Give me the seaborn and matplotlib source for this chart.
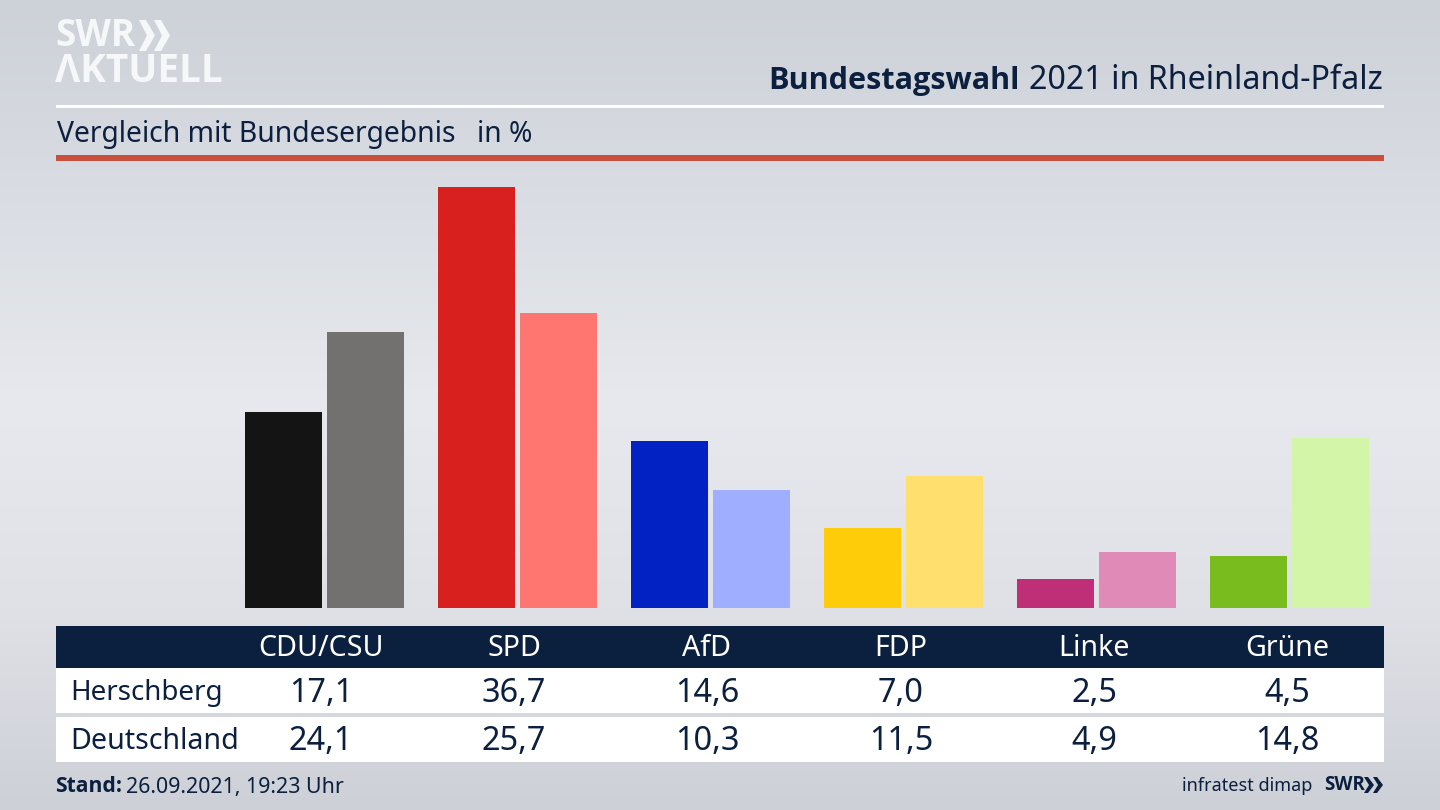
import numpy as np
import pandas as pd
import matplotlib
matplotlib.use("Agg")
import matplotlib.pyplot as plt
from matplotlib.patches import Rectangle, Polygon
from matplotlib.colors import LinearSegmentedColormap
import seaborn as sns

parties = ["CDU/CSU", "SPD", "AfD", "FDP", "Linke", "Grüne"]
herschberg = [17.1, 36.7, 14.6, 7.0, 2.5, 4.5]
deutschland = [24.1, 25.7, 10.3, 11.5, 4.9, 14.8]
row_names = ["Herschberg", "Deutschland"]
colors_herschberg = ["#141414", "#D8201E", "#0322C4", "#FFCC0A", "#BE2F78", "#78BC1E"]
colors_deutschland = ["#72716F", "#FF7570", "#A0AEFF", "#FFE06E", "#E08AB8", "#D2F5A8"]

NAVY = "#0B1F3F"
sns.set_theme(style="white")
plt.rcParams["font.family"] = ["Noto Sans", "DejaVu Sans"]

W, H = 1440, 810
fig = plt.figure(figsize=(14.4, 8.1), dpi=100)

# background gradient
bg = fig.add_axes([0, 0, 1, 1], zorder=0)
cmap = LinearSegmentedColormap.from_list(
    "bg", [(0, "#CDD1D8"), (0.25, "#DADDE3"), (0.5, "#E7E9EE"), (0.75, "#DFE1E7"), (1, "#CDD0D6")])
yy = np.linspace(0, 1, 256)[:, None]
bg.imshow(yy, cmap=cmap, aspect="auto", extent=(0, W, H, 0), vmin=0, vmax=1)
bg.set_xlim(0, W); bg.set_ylim(H, 0); bg.axis("off")

# header rules
bg.add_patch(Rectangle((56, 104.5), 1328, 3, color="white", lw=0))
bg.add_patch(Rectangle((56, 155), 1328, 5.5, color="#C9503C", lw=0))

# table
bg.add_patch(Rectangle((56, 626), 1328, 42, color=NAVY, lw=0))
bg.add_patch(Rectangle((56, 668), 1328, 45, color="white", lw=0))
bg.add_patch(Rectangle((56, 717), 1328, 45, color="white", lw=0))

# bars
ax = fig.add_axes([228.4 / W, 1 - 608 / H, 1158 / W, 443 / H], zorder=1)
df = pd.DataFrame({
    "Partei": parties * 2,
    "Gebiet": [row_names[0]] * 6 + [row_names[1]] * 6,
    "Wert": herschberg + deutschland,
})
sns.barplot(data=df, x="Partei", y="Wert", hue="Gebiet", ax=ax, width=0.85, gap=0.06,
            legend=False, saturation=1, errorbar=None, linewidth=0, edgecolor="none")
for container, cols in zip(ax.containers, [colors_herschberg, colors_deutschland]):
    for patch, c in zip(container, cols):
        patch.set_facecolor(c)
        patch.set_edgecolor("none")
ax.set_xlim(-0.5, 5.5)
ax.set_ylim(0, 443 / 11.46)
ax.axis("off")

def T(x, y, s, size, color=NAVY, ha="left", weight="normal", va="center", family=None):
    kw = {"family": family} if family else {}
    return bg.text(x, y, s, fontsize=size, color=color, ha=ha, va=va, fontweight=weight, **kw)

BOLD = ["Open Sans", "DejaVu Sans"]
LOGO = "#F6F7F9"

# logo
T(55, 35.5, "SWR", 26.5, LOGO, weight="bold", family=BOLD)
T(55, 72, "ΛKTUELL", 27.8, LOGO, weight="bold", family=BOLD)
for x0 in [139, 154]:
    bg.add_patch(Polygon([(x0, 20), (x0 + 7, 20), (x0 + 16, 35.5), (x0 + 7, 51), (x0, 51), (x0 + 8, 35.5)],
                         color=LOGO, lw=0))

# titles
T(1383, 80.5, "2021 in Rheinland-Pfalz", 23.2, ha="right")
T(1020, 80.5, "Bundestagswahl", 22.1, ha="right", weight="bold", family=BOLD)
T(57, 134.5, "Vergleich mit Bundesergebnis", 20.4)
T(477, 134.5, "in %", 20.3)

# table text
centers = [321, 514, 707, 901, 1094, 1287]
for cx, p, a, b in zip(centers, parties, herschberg, deutschland):
    T(cx, 648, p, 20.6, "white", ha="center")
    T(cx, 693.5, f"{a:.1f}".replace(".", ","), 23.4, ha="center")
    T(cx, 742, f"{b:.1f}".replace(".", ","), 23.4, ha="center")
T(70, 693, row_names[0], 20)
T(70, 741.5, row_names[1], 20.6)

# footer
T(55.5, 787, "Stand:", 15.2, weight="bold", family=BOLD)
T(126, 787, "26.09.2021, 19:23 Uhr", 15.4)
T(1312, 786, "infratest dimap", 13, ha="right")
T(1324, 785.5, "SWR", 13.5, weight="bold", family=BOLD)
for x0 in [1364, 1373]:
    bg.add_patch(Polygon([(x0, 777), (x0 + 4, 777), (x0 + 10, 785), (x0 + 4, 793), (x0, 793), (x0 + 5, 785)],
                         color=NAVY, lw=0))

fig.savefig("out.png", dpi=100)
